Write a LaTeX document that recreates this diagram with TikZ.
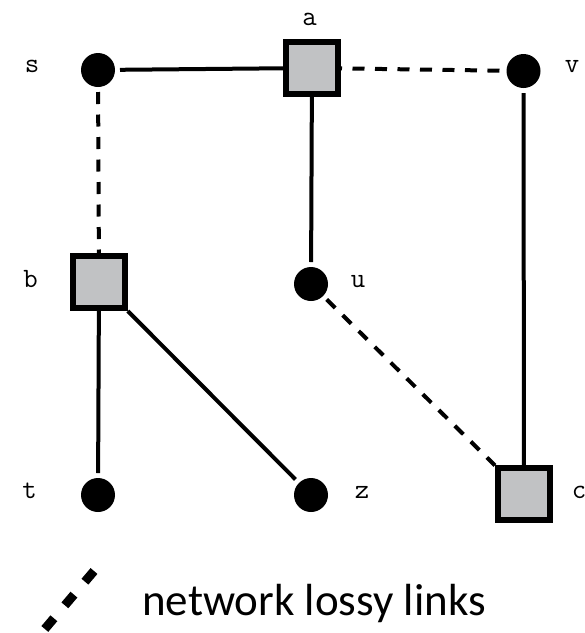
\documentclass[tikz,border=0pt]{standalone}
\usepackage{fontspec}
\newfontfamily\legendfont{Carlito}
\definecolor{routergray}{HTML}{C1C2C4}
\begin{document}
\begin{tikzpicture}[x=1pt,y=-1pt,
  host/.style={circle, fill=black, minimum size=34pt, inner sep=0pt, outer sep=5pt},
  router/.style={rectangle, draw=black, line width=6pt, fill=routergray,
                 minimum size=52pt, inner sep=0pt},
  tag/.style={font=\ttfamily\fontsize{28}{28}\selectfont, anchor=base, inner sep=0pt},
  link/.style={line width=4pt},
  lossy/.style={line width=4pt, dash pattern=on 12pt off 10.5pt},
]
\useasboundingbox (0,0) rectangle (585,633);

% hosts and routers
\node[host]   (s) at (98,70)    {};
\node[router] (a) at (312,68)   {};
\node[host]   (v) at (523.5,71) {};
\node[router] (b) at (99,282)   {};
\node[host]   (u) at (311,284)  {};
\node[host]   (t) at (98,495)   {};
\node[host]   (z) at (311,495)  {};
\node[router] (c) at (524,494)  {};

% labels
\node[tag] (ls) at (32,72)    {s};
\node[tag] (la) at (309.5,25) {a};
\node[tag] (lv) at (572,72)   {v};
\node[tag] (lb) at (30.5,287) {b};
\node[tag] (lu) at (358,287)  {u};
\node[tag] (lt) at (29.5,498) {t};
\node[tag] (lz) at (362,498)  {z};
\node[tag] (lc) at (579,498)  {c};

% links
\draw[link]  (s) -- (a);
\draw[lossy, dash phase=11pt] (a) -- (v);
\draw[lossy] (s) -- (b);
\draw[link]  (a) -- (u);
\draw[link]  (b) -- (t);
\draw[link]  (b) -- (z);
\draw[lossy] (u) -- (c);
\draw[link]  (v) -- (c);

% legend
\coordinate (k1) at (94,571);
\coordinate (k2) at (38,637);
\draw[line width=9pt, dash pattern=on 14pt off 17pt] (k1) -- (k2);
\node[anchor=base west, inner sep=0pt, font=\legendfont\fontsize{45}{45}\selectfont]
  (legend) at (142,615) {network lossy links};
\end{tikzpicture}
\end{document}
